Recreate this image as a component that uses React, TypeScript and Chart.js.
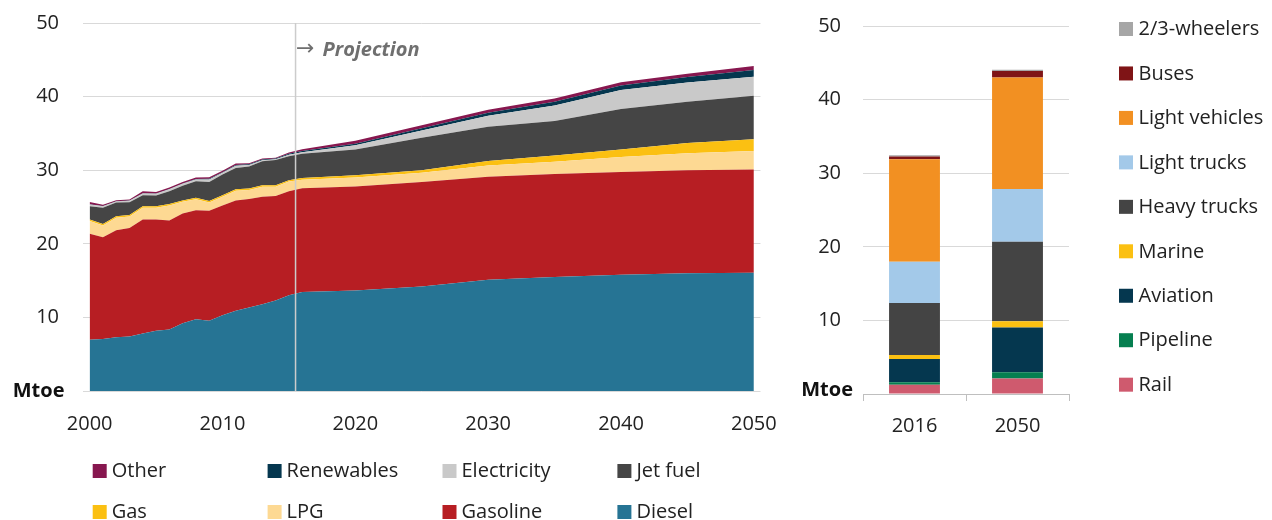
import React, { useEffect, useRef } from "react";
import { Chart, registerables } from "chart.js";

Chart.register(...registerables);

// ---------- Left chart: fuel consumption by fuel (Mtoe) ----------
const years = [
  2000, 2001, 2002, 2003, 2004, 2005, 2006, 2007, 2008, 2009, 2010, 2011, 2012,
  2013, 2014, 2015, 2016, 2020, 2025, 2030, 2035, 2040, 2045, 2050,
];
const diesel = [
  6.95, 7.05, 7.3, 7.4, 7.8, 8.2, 8.35, 9.2, 9.75, 9.55, 10.3, 10.9, 11.35,
  11.8, 12.3, 13.0, 13.45, 13.65, 14.2, 15.1, 15.5, 15.8, 16.0, 16.05,
];
const gasoline = [
  14.4, 13.85, 14.55, 14.75, 15.5, 15.1, 14.8, 14.9, 14.8, 14.95, 14.9, 15.0,
  14.75, 14.6, 14.2, 14.15, 14.1, 14.15, 14.2, 14.0, 14.0, 13.95, 14.0, 14.05,
];
const lpg = [
  1.75, 1.6, 1.7, 1.55, 1.6, 1.6, 2.05, 1.6, 1.5, 1.1, 1.2, 1.3, 1.2, 1.35,
  1.25, 1.3, 1.15, 1.2, 1.25, 1.55, 1.65, 2.05, 2.3, 2.5,
];
const gas = [
  0.2, 0.2, 0.2, 0.2, 0.2, 0.2, 0.2, 0.2, 0.2, 0.2, 0.2, 0.2, 0.2, 0.2, 0.2,
  0.2, 0.25, 0.3, 0.35, 0.6, 0.85, 1.0, 1.4, 1.6,
];
const jetFuel = [
  1.8, 2.2, 1.85, 1.75, 1.5, 1.45, 1.75, 2.0, 2.25, 2.6, 2.8, 2.9, 3.0, 3.25,
  3.45, 3.25, 3.3, 3.5, 4.4, 4.65, 4.7, 5.5, 5.6, 5.9,
];
const electricity = [
  0.25, 0.2, 0.15, 0.2, 0.25, 0.25, 0.25, 0.25, 0.25, 0.35, 0.25, 0.3, 0.2,
  0.15, 0.1, 0.2, 0.2, 0.6, 1.0, 1.5, 2.1, 2.6, 2.6, 2.6,
];
const renewables = [
  0.02, 0.02, 0.02, 0.02, 0.03, 0.03, 0.05, 0.05, 0.05, 0.08, 0.08, 0.1, 0.1,
  0.1, 0.1, 0.12, 0.15, 0.2, 0.3, 0.4, 0.5, 0.6, 0.75, 0.9,
];
const other = [
  0.3, 0.2, 0.15, 0.15, 0.25, 0.2, 0.2, 0.2, 0.2, 0.2, 0.2, 0.2, 0.15, 0.15,
  0.1, 0.2, 0.25, 0.4, 0.4, 0.4, 0.45, 0.45, 0.45, 0.55,
];
const xTickYears = [2000, 2010, 2020, 2030, 2040, 2050];
const projectionStart = 2015.5;
const projectionLabel = "Projection";

// ---------- Right chart: consumption by mode (Mtoe) ----------
const barCategories = ["2016", "2050"];
const rail = [1.26, 2.1];
const pipeline = [0.32, 0.85];
const aviation = [3.17, 6.1];
const marine = [0.54, 0.85];
const heavyTrucks = [7.06, 10.8];
const lightTrucks = [5.61, 7.15];
const lightVehicles = [13.94, 15.15];
const buses = [0.36, 0.9];
const twoThreeWheelers = [0.19, 0.15];

const unitLabel = "Mtoe";
const FONT = "'Open Sans', 'Noto Sans', sans-serif";
const TEXT = "#222222";

const leftDecor = {
  id: "leftDecor",
  afterDatasetsDraw(chart: any) {
    const { ctx, chartArea, scales } = chart;
    const x = scales.x.getPixelForValue(projectionStart);
    ctx.save();
    ctx.strokeStyle = "#cccccc";
    ctx.lineWidth = 1.5;
    ctx.beginPath();
    ctx.moveTo(x, chartArea.top);
    ctx.lineTo(x, chartArea.bottom);
    ctx.stroke();
    ctx.fillStyle = "#6f6f6f";
    ctx.textBaseline = "middle";
    ctx.textAlign = "left";
    ctx.font = "22px 'DejaVu Sans', sans-serif";
    ctx.fillText("\u2192", x + 0.5, chartArea.top + 26);
    ctx.font = `italic bold 20px ${FONT}`;
    ctx.fillText(projectionLabel, x + 27, chartArea.top + 27);
    ctx.restore();
  },
  afterDraw(chart: any) {
    const { ctx, chartArea, scales } = chart;
    ctx.save();
    ctx.fillStyle = "#111";
    ctx.font = `bold 20px ${FONT}`;
    ctx.textAlign = "right";
    ctx.textBaseline = "middle";
    ctx.fillText(unitLabel, 64.5, scales.y.getPixelForValue(0));

    // bottom legend, 4 columns x 2 rows
    const items = chart.data.datasets
      .map((d: any) => ({ label: d.label, color: d.backgroundColor }))
      .reverse();
    items.forEach((it: any, i: number) => {
      const col = i % 4;
      const row = Math.floor(i / 4);
      const bx = chartArea.left + 9.7 + col * 174.9;
      const cy = 471 + row * 41;
      ctx.fillStyle = it.color;
      ctx.fillRect(bx, cy - 7, 14, 14);
      ctx.fillStyle = TEXT;
      ctx.font = `20px ${FONT}`;
      ctx.textAlign = "left";
      ctx.textBaseline = "middle";
      ctx.fillText(it.label, bx + 19, cy + 0.5);
    });
    ctx.restore();
  },
};

const rightDecor = {
  id: "rightDecor",
  afterDraw(chart: any) {
    const { ctx, scales } = chart;
    ctx.save();
    ctx.fillStyle = "#111";
    ctx.font = `bold 20px ${FONT}`;
    ctx.textAlign = "right";
    ctx.textBaseline = "middle";
    ctx.fillText(unitLabel, 63, scales.y.getPixelForValue(0) - 3.5);

    const items = chart.data.datasets
      .map((d: any) => ({ label: d.label, color: d.backgroundColor }))
      .reverse();
    items.forEach((it: any, i: number) => {
      const cy = 29 + i * 44.46;
      ctx.fillStyle = it.color;
      ctx.fillRect(329, cy - 7, 14, 14);
      ctx.fillStyle = TEXT;
      ctx.font = `20px ${FONT}`;
      ctx.textAlign = "left";
      ctx.textBaseline = "middle";
      ctx.fillText(it.label, 348.5, cy + 0.5);
    });
    ctx.restore();
  },
};

export default function App() {
  const leftRef = useRef<HTMLCanvasElement>(null);
  const rightRef = useRef<HTMLCanvasElement>(null);

  useEffect(() => {
    Chart.defaults.font.family = FONT;
    Chart.defaults.color = TEXT;

    const areaSeries = [
      { label: "Diesel", values: diesel, color: "#267494" },
      { label: "Gasoline", values: gasoline, color: "#b71e23" },
      { label: "LPG", values: lpg, color: "#fdd993" },
      { label: "Gas", values: gas, color: "#fbc012" },
      { label: "Jet fuel", values: jetFuel, color: "#454545" },
      { label: "Electricity", values: electricity, color: "#c9c9c9" },
      { label: "Renewables", values: renewables, color: "#05374f" },
      { label: "Other", values: other, color: "#87174f" },
    ];

    const left = new Chart(leftRef.current as HTMLCanvasElement, {
      type: "line",
      data: {
        datasets: areaSeries.map((s, i) => ({
          label: s.label,
          data: years.map((yr, j) => ({ x: yr, y: s.values[j] })),
          backgroundColor: s.color,
          borderColor: s.color,
          borderWidth: 0,
          pointRadius: 0,
          tension: 0,
          fill: i === 0 ? "origin" : "-1",
        })),
      },
      options: {
        responsive: false,
        animation: false,
        layout: { padding: { left: 0, right: 28, top: 23, bottom: 69 } },
        plugins: { legend: { display: false }, tooltip: { enabled: false } },
        scales: {
          x: {
            type: "linear",
            min: 1999.5,
            max: 2050.5,
            afterBuildTicks: (s: any) => {
              s.ticks = xTickYears.map((v) => ({ value: v }));
            },
            afterFit: (s: any) => {
              s.height = 60;
            },
            grid: { display: false },
            border: { display: false },
            ticks: {
              padding: 13,
              autoSkip: false,
              maxRotation: 0,
              color: TEXT,
              font: { size: 20 },
              callback: (v: any) => String(v),
            },
          },
          y: {
            stacked: true,
            min: 0,
            max: 50,
            afterFit: (s: any) => {
              s.width = 83;
              s.paddingTop = 0;
              s.paddingBottom = 0;
            },
            grid: { color: "#d9d9d9", lineWidth: 1, drawTicks: false },
            border: { display: false },
            ticks: {
              stepSize: 10,
              padding: 24,
              color: TEXT,
              font: { size: 20 },
              callback: (v: any) => (v === 0 ? "" : String(v)),
            },
          },
        },
      } as any,
      plugins: [leftDecor],
    });

    const barSeries = [
      { label: "Rail", values: rail, color: "#cf5a6e" },
      { label: "Pipeline", values: pipeline, color: "#067f50" },
      { label: "Aviation", values: aviation, color: "#05374f" },
      { label: "Marine", values: marine, color: "#fbc012" },
      { label: "Heavy trucks", values: heavyTrucks, color: "#444444" },
      { label: "Light trucks", values: lightTrucks, color: "#a3c9e9" },
      { label: "Light vehicles", values: lightVehicles, color: "#f29022" },
      { label: "Buses", values: buses, color: "#7f1416" },
      { label: "2/3-wheelers", values: twoThreeWheelers, color: "#a6a6a6" },
    ];

    const right = new Chart(rightRef.current as HTMLCanvasElement, {
      type: "bar",
      data: {
        labels: barCategories,
        datasets: barSeries.map((s) => ({
          label: s.label,
          data: s.values,
          backgroundColor: s.color,
          borderWidth: 0,
          barPercentage: 0.494,
          categoryPercentage: 1,
        })),
      },
      options: {
        responsive: false,
        animation: false,
        layout: { padding: { left: 0, right: 203, top: 26, bottom: 66 } },
        plugins: { legend: { display: false }, tooltip: { enabled: false } },
        scales: {
          x: {
            stacked: true,
            afterFit: (s: any) => {
              s.height = 60;
            },
            grid: {
              offset: true,
              drawOnChartArea: false,
              drawTicks: true,
              tickLength: 7,
              color: "#bfbfbf",
            },
            border: { display: true, color: "#bfbfbf" },
            ticks: { padding: 13, color: TEXT, font: { size: 20 } },
          },
          y: {
            stacked: true,
            min: 0,
            max: 50,
            afterFit: (s: any) => {
              s.width = 73;
              s.paddingTop = 0;
              s.paddingBottom = 0;
            },
            grid: { color: "#d9d9d9", lineWidth: 1, drawTicks: false },
            border: { display: false },
            ticks: {
              stepSize: 10,
              padding: 22,
              color: TEXT,
              font: { size: 20 },
              callback: (v: any) => (v === 0 ? "" : String(v)),
            },
          },
        },
      } as any,
      plugins: [rightDecor],
    });

    return () => {
      left.destroy();
      right.destroy();
    };
  }, []);

  return (
    <div
      style={{
        position: "absolute",
        left: 0,
        top: 0,
        width: 1272,
        height: 520,
        background: "#ffffff",
      }}
    >
      <canvas
        ref={leftRef}
        width={790}
        height={520}
        style={{ position: "absolute", left: 0, top: 0, width: 790, height: 520 }}
      />
      <canvas
        ref={rightRef}
        width={482}
        height={520}
        style={{ position: "absolute", left: 790, top: 0, width: 482, height: 520 }}
      />
    </div>
  );
}
